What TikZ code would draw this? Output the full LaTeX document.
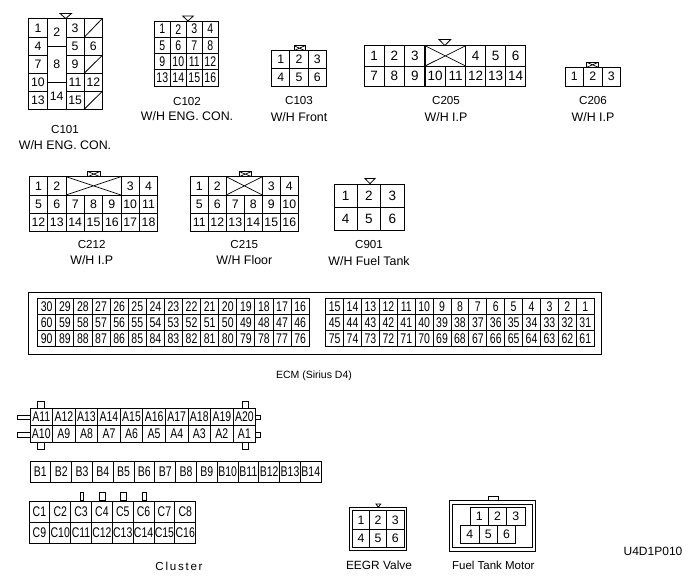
\documentclass[tikz,border=0pt]{standalone}
\usepackage{fontspec}
\setmainfont{Liberation Sans}
\newfontfamily\numfont[FakeStretch=0.75]{Liberation Sans}
\newfontfamily\spacedfont[LetterSpace=15]{Liberation Sans}
\usetikzlibrary{shapes,calc}
\tikzstyle{cavity}=[draw=black, line width=0.9pt, inner sep=0pt, outer sep=0pt, font=\numfont\fontsize{14}{14}\selectfont]
\tikzstyle{midcavity}=[cavity, font=\fontsize{12.3}{13}\selectfont]
\tikzstyle{widecavity}=[cavity, font=\fontsize{13.5}{14}\selectfont]
\tikzstyle{caption}=[inner sep=0pt, font=\fontsize{11.6}{13}\selectfont]
\tikzstyle{subcaption}=[inner sep=0pt, font=\fontsize{12.4}{13}\selectfont]
\tikzstyle{key}=[draw=black, line width=0.8pt, fill=white]
\newcommand{\cavity}[7][midcavity]{\node[#1, minimum width={#4-#2}, minimum height={#5-#3}] (#6) at ({(#2+#4)/2},{(#3+#5)/2}) {#7};}
\newcommand{\cavrow}[7][cavity]{\foreach \lab [count=\k from 0] in {#7}
  {\node[#1, minimum width=#5, minimum height=#6, anchor=north west] (#2\lab) at ({#3+#5*\k},#4) {\lab};}}
\newcommand{\crossed}[1]{\draw[line width=0.7pt] (#1.north west) -- (#1.south east) (#1.north east) -- (#1.south west);}
\newcommand{\struck}[1]{\draw[line width=0.8pt] (#1.south west) -- (#1.north east);}
\newcommand{\keytri}[4]{\draw[key] (#1,#3) -- (#2,#3) -- ({(#1+#2)/2},#4) -- cycle;}
\newcommand{\keytab}[5]{\cavity{#2}{#3}{#4}{#5}{#1}{} \crossed{#1}}
\newcommand{\twolines}[5]{\node[caption] (#1a) at (#2,#3) {#1}; \node[subcaption] (#1b) at (#2,#4) {#5};}

\begin{document}
\begin{tikzpicture}[x=1pt,y=-1pt]
  \useasboundingbox (0,0) rectangle (700,583);

  % C101
  \keytri{60}{71.5}{13.5}{18.5}
  \cavrow[midcavity]{C101-}{28.5}{18.3}{19}{19}{1}
  \cavrow[midcavity]{C101-}{28.5}{37.3}{19}{17.8}{4}
  \cavrow[midcavity]{C101-}{28.5}{55.1}{19}{18.2}{7}
  \cavrow[midcavity]{C101-}{28.5}{73.3}{19}{17.8}{10}
  \cavrow[midcavity]{C101-}{28.5}{91.1}{19}{18.2}{13}
  \cavity{47.5}{18.3}{66}{46.7}{C101-2}{2}
  \cavity{47.5}{46.7}{66}{82.3}{C101-8}{8}
  \cavity{47.5}{82.3}{66}{109.3}{C101-14}{14}
  \cavrow[midcavity]{C101-}{66}{18.3}{18.2}{19}{3}
  \cavrow[midcavity]{C101-}{66}{37.3}{18.2}{17.8}{5}
  \cavrow[midcavity]{C101-}{66}{55.1}{18.2}{18.2}{9}
  \cavrow[midcavity]{C101-}{66}{73.3}{18.2}{17.8}{11}
  \cavrow[midcavity]{C101-}{66}{91.1}{18.2}{18.2}{15}
  \cavity{84.2}{18.3}{102.5}{37.3}{C101-x1}{}
  \cavity{84.2}{37.3}{102.5}{55.1}{C101-6}{6}
  \cavity{84.2}{55.1}{102.5}{73.3}{C101-x2}{}
  \cavity{84.2}{73.3}{102.5}{91.1}{C101-12}{12}
  \cavity{84.2}{91.1}{102.5}{109.3}{C101-x3}{}
  \struck{C101-x1} \struck{C101-x2} \struck{C101-x3}
  \twolines{C101}{65}{130}{145}{W/H ENG. CON.}

  % C102
  \keytri{182.7}{193.3}{16}{21}
  \cavrow{C102-}{154.3}{21}{16}{16.25}{1,2,3,4}
  \cavrow{C102-}{154.3}{37.25}{16}{16.25}{5,6,7,8}
  \cavrow{C102-}{154.3}{53.5}{16}{16.25}{9,10,11,12}
  \cavrow{C102-}{154.3}{69.75}{16}{16.25}{13,14,15,16}
  \twolines{C102}{187}{102}{116}{W/H ENG. CON.}

  % C103
  \keytab{C103-tab}{294}{45.7}{305}{50.7}
  \cavrow[midcavity]{C103-}{271.7}{50.7}{18.2}{18}{1,2,3}
  \cavrow[midcavity]{C103-}{271.7}{68.7}{18.2}{18}{4,5,6}
  \twolines{C103}{299}{100.7}{117.3}{W/H Front}

  % C205
  \keytri{439}{450.7}{39.5}{45.5}
  \cavrow[widecavity]{C205-}{364}{45.7}{20.3}{20.3}{1,2,3}
  \cavity{425}{45.7}{465.7}{66}{C205-x}{} \crossed{C205-x}
  \cavrow[widecavity]{C205-}{465.7}{45.7}{20}{20.3}{4,5,6}
  \cavrow[widecavity]{C205-}{364}{66}{20.3}{20}{7,8,9}
  \cavrow[widecavity]{C205-}{425}{66}{20.35}{20}{10,11}
  \cavrow[widecavity]{C205-}{465.7}{66}{20}{20}{12,13,14}
  \twolines{C205}{446}{100.7}{117.3}{W/H I.P}

  % C206
  \keytab{C206-tab}{586.7}{62.3}{598.3}{67.3}
  \cavrow[midcavity]{C206-}{565}{67.3}{18.55}{18.7}{1,2,3}
  \twolines{C206}{593}{100.7}{117.3}{W/H I.P}

  % C212
  \keytab{C212-tab}{87.7}{171.5}{100}{176.7}
  \cavrow[midcavity]{C212-}{29.3}{176.7}{18.35}{18.3}{1,2}
  \cavity{66}{176.7}{121}{195}{C212-x}{} \crossed{C212-x}
  \cavrow[midcavity]{C212-}{121}{176.7}{18.35}{18.3}{3,4}
  \cavrow[midcavity]{C212-}{29.3}{195}{18.35}{18.1}{5,6,7,8,9,10,11}
  \cavrow[midcavity]{C212-}{29.3}{213.1}{18.35}{18}{12,13,14,15,16,17,18}
  \twolines{C212}{91.7}{245}{260}{W/H I.P}

  % C215
  \keytab{C215-tab}{239}{171.5}{251.7}{176.7}
  \cavrow[midcavity]{C215-}{190.3}{176.7}{18}{18.3}{1,2}
  \cavity{226.3}{176.7}{262.3}{195}{C215-x}{} \crossed{C215-x}
  \cavrow[midcavity]{C215-}{262.3}{176.7}{18}{18.3}{3,4}
  \cavrow[midcavity]{C215-}{190.3}{195}{18}{18.1}{5,6,7,8,9,10}
  \cavrow[midcavity]{C215-}{190.3}{213.1}{18}{18}{11,12,13,14,15,16}
  \twolines{C215}{244.3}{245}{260}{W/H Floor}

  % C901
  \keytri{365}{375}{178.5}{183.7}
  \cavrow[widecavity]{C901-}{334}{184}{23.33}{23.3}{1,2,3}
  \cavrow[widecavity]{C901-}{334}{207.3}{23.33}{23.4}{4,5,6}
  \twolines{C901}{369}{245}{261}{W/H Fuel Tank}

  % ECM
  \cavity{28.3}{292.3}{601}{354}{ecm}{}
  \cavrow{E}{37.7}{298.3}{18.1}{16.1}{30,29,28,27,26,25,24,23,22,21,20,19,18,17,16}
  \cavrow{E}{37.7}{314.4}{18.1}{16.1}{60,59,58,57,56,55,54,53,52,51,50,49,48,47,46}
  \cavrow{E}{37.7}{330.5}{18.1}{16.2}{90,89,88,87,86,85,84,83,82,81,80,79,78,77,76}
  \cavrow{E}{325.7}{298.3}{17.9}{16.1}{15,14,13,12,11,10,9,8,7,6,5,4,3,2,1}
  \cavrow{E}{325.7}{314.4}{17.9}{16.1}{45,44,43,42,41,40,39,38,37,36,35,34,33,32,31}
  \cavrow{E}{325.7}{330.5}{17.9}{16.2}{75,74,73,72,71,70,69,68,67,66,65,64,63,62,61}
  \node[caption, font=\fontsize{10.5}{12}\selectfont] (ecmt) at (314,376) {ECM (Sirius D4)};

  % A row
  \foreach \tx [count=\n] in {37.3,242} {
    \cavity{\tx}{401.5}{\tx+6.7}{408.3}{at\n}{}
    \cavity{\tx}{442.3}{\tx+6.7}{449.5}{ab\n}{}
  }
  \foreach \ty [count=\n] in {415,432.7} {
    \cavity{17.5}{\ty}{30}{\ty+4.3}{al\n}{}
    \cavity{255.7}{\ty}{260.5}{\ty+4.3}{ar\n}{}
  }
  \cavrow{}{30}{408.3}{22.57}{17}{A11,A12,A13,A14,A15,A16,A17,A18,A19,A20}
  \cavrow{}{30}{425.3}{22.57}{17}{A10,A9,A8,A7,A6,A5,A4,A3,A2,A1}

  % B row
  \cavrow{}{30}{461}{20.8}{21.7}{B1,B2,B3,B4,B5,B6,B7,B8,B9,B10,B11,B12,B13,B14}

  % Cluster row
  \cavity{80}{492}{83.5}{500.7}{ct1}{}
  \cavity{99}{492}{105.7}{500.7}{ct2}{}
  \cavity{120}{492}{126.7}{500.7}{ct3}{}
  \cavity{142.7}{492}{146.2}{500.7}{ct4}{}
  \cavrow{cl}{29}{501.7}{20.83}{20.6}{C1,C2,C3,C4,C5,C6,C7,C8}
  \cavrow{cl}{29}{522.3}{20.83}{21}{C9,C10,C11,C12,C13,C14,C15,C16}
  \node[caption, font=\spacedfont\fontsize{11.6}{13}\selectfont] (clustert) at (179,566) {Cluster};

  % EEGR
  \keytri{376}{380.7}{504}{507.3}
  \cavity{349.3}{507.3}{406.7}{550.7}{eegrout}{}
  \cavrow[midcavity]{EV}{352.3}{510.7}{17.23}{18.3}{1,2,3}
  \cavrow[midcavity]{EV}{352.3}{529}{17.23}{18.3}{4,5,6}
  \node[subcaption, font=\fontsize{11.9}{13}\selectfont] (eegrt) at (379,565.5) {EEGR Valve};

  % Fuel tank motor
  \cavity{488.3}{496}{498.3}{500}{ftmtab}{}
  \cavity{449}{500}{535.7}{551}{ftmout}{}
  \cavity{452.3}{504}{532.7}{547.3}{ftmin}{}
  \cavrow[midcavity]{FM}{470}{507.3}{18.35}{17.7}{1,2,3}
  \cavrow[midcavity]{FM}{460.7}{525}{18.35}{18.3}{4,5,6}
  \node[caption, font=\fontsize{11.5}{13}\selectfont] (ftmt) at (493.3,565) {Fuel Tank Motor};

  \node[subcaption, font=\fontsize{12}{13}\selectfont] (figcode) at (653,551.7) {U4D1P010};
\end{tikzpicture}
\end{document}
